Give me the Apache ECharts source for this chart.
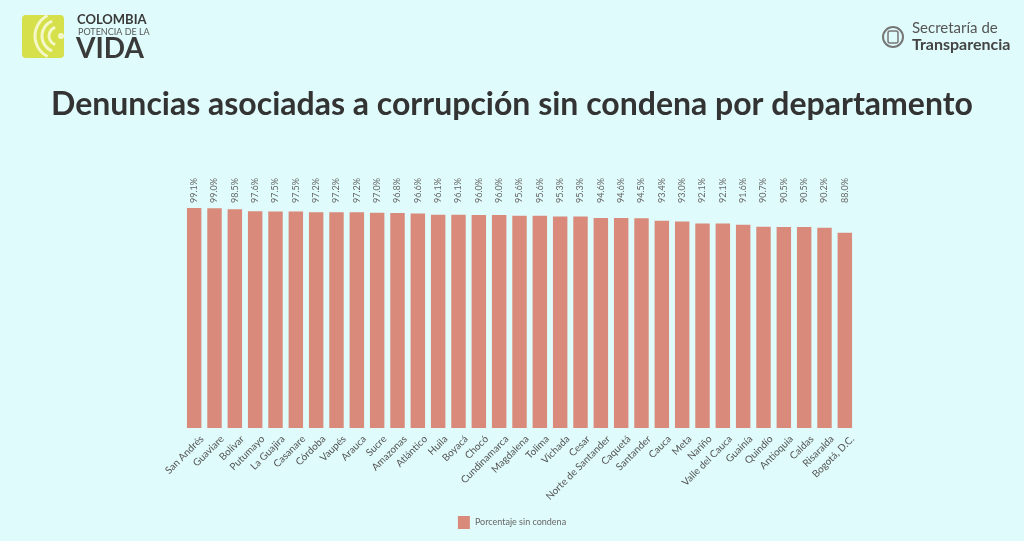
<!DOCTYPE html>
<html><head><meta charset="utf-8">
<script src="https://cdn.jsdelivr.net/npm/echarts@6/dist/echarts.min.js"></script>
<style>html,body{margin:0;padding:0;background:#e0fbfb;}#c{width:1024px;height:541px;}</style>
</head><body><div id="c"></div>
<script>
const departamentos = ["San Andrés","Guaviare","Bolívar","Putumayo","La Guajira","Casanare","Córdoba","Vaupés","Arauca","Sucre","Amazonas","Atlántico","Huila","Boyacá","Chocó","Cundinamarca","Magdalena","Tolima","Vichada","Cesar","Norte de Santander","Caquetá","Santander","Cauca","Meta","Nariño","Valle del Cauca","Guainía","Quindío","Antioquia","Caldas","Risaralda","Bogotá, D.C."];
const porcentajeSinCondena = [99.1,99.0,98.5,97.6,97.5,97.5,97.2,97.2,97.2,97.0,96.8,96.6,96.1,96.1,96.0,96.0,95.6,95.6,95.3,95.3,94.6,94.6,94.5,93.4,93.0,92.1,92.1,91.6,90.7,90.5,90.5,90.2,88.0];
const titulo = "Denuncias asociadas a corrupción sin condena por departamento";
const serieNombre = "Porcentaje sin condena";
const yMax = 100;

const chart = echarts.init(document.getElementById('c'));
const font = 'Lato, "Open Sans", sans-serif';
chart.setOption({
  backgroundColor: '#e0fbfb',
  animation: false,
  title: {
    text: titulo, left: 'center', top: 84,
    textStyle: {fontFamily: font, fontSize: 32, fontWeight: 'bold', color: '#333'}
  },
  legend: {
    data: [serieNombre], bottom: 7, left: 'center',
    itemWidth: 12, itemHeight: 13, icon: 'rect', itemGap: 8,
    textStyle: {fontFamily: font, fontSize: 9, color: '#666'}
  },
  grid: {left: 184, right: 169, top: 206, bottom: 113},
  xAxis: {
    type: 'category', data: departamentos,
    axisLine: {show: false}, axisTick: {show: false},
    axisLabel: {rotate: 45, interval: 0, fontFamily: font, fontSize: 10, color: '#555', margin: 10, verticalAlign: 'top', padding: [0, -6, 0, 0]}
  },
  yAxis: {type: 'value', min: 0, max: yMax, show: false, splitLine: {show: false}},
  series: [
    {
      name: serieNombre, type: 'bar', data: porcentajeSinCondena,
      barCategoryGap: '29%',
      itemStyle: {color: '#d98a7b'}
    },
    {
      name: 'labels', type: 'bar', silent: true,
      data: porcentajeSinCondena.map(() => yMax),
      barGap: '-100%', barCategoryGap: '29%',
      itemStyle: {color: 'rgba(0,0,0,0)'},
      label: {
        show: true, position: 'top', rotate: 90, align: 'left', verticalAlign: 'middle', distance: 3,
        formatter: p => porcentajeSinCondena[p.dataIndex].toFixed(1) + '%',
        fontFamily: font, fontSize: 9, color: '#666'
      },
      z: 1
    }
  ],
  graphic: [
    {type: 'rect', shape: {x: 22, y: 15, width: 42, height: 43, r: 4}, style: {fill: '#d5e04a'}},
    {type: 'arc', shape: {cx: 58, cy: 36, r: 9, startAngle: Math.PI*0.6, endAngle: Math.PI*1.4}, style: {stroke: '#f4f8c8', lineWidth: 3, fill: null}},
    {type: 'arc', shape: {cx: 58, cy: 36, r: 16, startAngle: Math.PI*0.62, endAngle: Math.PI*1.38}, style: {stroke: '#f4f8c8', lineWidth: 3, fill: null}},
    {type: 'arc', shape: {cx: 58, cy: 36, r: 23, startAngle: Math.PI*0.65, endAngle: Math.PI*1.35}, style: {stroke: '#f4f8c8', lineWidth: 3, fill: null}},
    {type: 'circle', shape: {cx: 61, cy: 36, r: 3}, style: {fill: '#f4f8c8'}},
    {type: 'text', left: 77, top: 13, style: {text: 'COLOMBIA', font: 'bold 13px ' + font, fill: '#3a3a3a'}},
    {type: 'text', left: 78, top: 28, style: {text: 'POTENCIA DE LA', font: '9px ' + font, fill: '#555'}},
    {type: 'text', left: 76, top: 35, style: {text: 'VIDA', font: 'bold 28px ' + font, fill: '#3a3a3a'}},
    {type: 'circle', shape: {cx: 893, cy: 37, r: 10}, style: {fill: 'none', stroke: '#777', lineWidth: 2}},
    {type: 'rect', shape: {x: 888, y: 31, width: 10, height: 12, r: 2}, style: {fill: 'none', stroke: '#777', lineWidth: 1.5}},
    {type: 'text', left: 912, top: 21, style: {text: 'Secretaría de', font: '15px ' + font, fill: '#555'}},
    {type: 'text', left: 912, top: 37, style: {text: 'Transparencia', font: 'bold 16px ' + font, fill: '#444'}}
  ]
});
</script></body></html>
